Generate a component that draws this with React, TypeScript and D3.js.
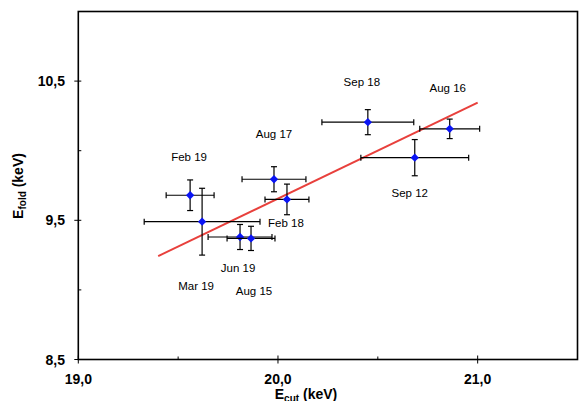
import React from "react";
import * as d3 from "d3";

const labels = ["Feb 19", "Mar 19", "Aug 17", "Feb 18", "Jun 19", "Aug 15", "Sep 18", "Aug 16", "Sep 12"];
const ecut = [19.56, 19.62, 19.98, 20.045, 19.81, 19.865, 20.45, 20.86, 20.685];
const ecutErr = [0.12, 0.29, 0.16, 0.11, 0.16, 0.12, 0.23, 0.15, 0.27];
const efold = [9.68, 9.49, 9.795, 9.65, 9.38, 9.37, 10.205, 10.157, 9.95];
const efoldErr = [0.11, 0.24, 0.09, 0.11, 0.09, 0.087, 0.09, 0.07, 0.13];
// label positions (data units)
const labelX = [19.555, 19.59, 19.98, 20.04, 19.8, 19.88, 20.42, 20.85, 20.66];
const labelY = [9.955, 9.028, 10.118, 9.483, 9.155, 8.99, 10.491, 10.448, 9.694];
const fitX = [19.4, 21.0];
const fitY = [9.243, 10.346];
const xMajor = [19.0, 20.0, 21.0];
const xMinor = [19.5, 20.5];
const yMajor = [8.5, 9.5, 10.5];
const yMinor = [9.0, 10.0];

export default function App() {
  const x = d3.scaleLinear().domain([19, 21.5]).range([78.3, 577.5]);
  const y = d3.scaleLinear().domain([8.5, 11]).range([359.5, 11.5]);
  const fmt = (v: number) => v.toFixed(1).replace(".", ",");
  const line = d3.line<number>().x((_, i) => x(fitX[i])).y((d) => y(d));
  const font = "Liberation Sans, Arial, sans-serif";
  const cap = 3;
  return (
    <svg width={583} height={401} style={{ position: "absolute", left: 0, top: 0, background: "#fff" }} fontFamily={font}>
      <rect x={x(19)} y={y(11)} width={x(21.5) - x(19)} height={y(8.5) - y(11)} fill="none" stroke="#000" strokeWidth={1.6} />
      {xMajor.map((v) => (
        <g key={"xm" + v}>
          <line x1={x(v)} x2={x(v)} y1={y(8.5) - 4} y2={y(8.5) + 4} stroke="#000" strokeWidth={1} />
          <text x={x(v)} y={384} textAnchor="middle" fontSize={14} fontWeight="bold">{fmt(v)}</text>
        </g>
      ))}
      {xMinor.map((v) => (
        <line key={"xn" + v} x1={x(v)} x2={x(v)} y1={y(8.5) - 3} y2={y(8.5)} stroke="#000" strokeWidth={1} />
      ))}
      {yMajor.map((v) => (
        <g key={"ym" + v}>
          <line x1={x(19) - 4} x2={x(19) + 3} y1={y(v)} y2={y(v)} stroke="#000" strokeWidth={1} />
          <text x={65} y={y(v)} dy="0.36em" textAnchor="end" fontSize={14} fontWeight="bold">{fmt(v)}</text>
        </g>
      ))}
      {yMinor.map((v) => (
        <line key={"yn" + v} x1={x(19)} x2={x(19) + 3} y1={y(v)} y2={y(v)} stroke="#000" strokeWidth={1} />
      ))}
      <text x={306} y={398.5} textAnchor="middle" fontSize={14} fontWeight="bold">
        E<tspan fontSize={10} dy={3}>cut</tspan><tspan dy={-3}>{"  (keV)"}</tspan>
      </text>
      <text transform="translate(23,186) rotate(-90)" textAnchor="middle" fontSize={14} fontWeight="bold">
        E<tspan fontSize={10} dy={3}>fold</tspan><tspan dy={-3}>{" (keV)"}</tspan>
      </text>
      <path d={line(fitY) || ""} stroke="#e8403c" strokeWidth={2} fill="none" />
      {ecut.map((v, i) => {
        const cx = x(v);
        const cy = y(efold[i]);
        const x0 = x(v - ecutErr[i]);
        const x1 = x(v + ecutErr[i]);
        const y0 = y(efold[i] - efoldErr[i]);
        const y1 = y(efold[i] + efoldErr[i]);
        return (
          <g key={"p" + i} stroke="#000" strokeWidth={1.2}>
            <line x1={x0} x2={x1} y1={cy} y2={cy} />
            <line x1={x0} x2={x0} y1={cy - cap} y2={cy + cap} />
            <line x1={x1} x2={x1} y1={cy - cap} y2={cy + cap} />
            <line x1={cx} x2={cx} y1={y0} y2={y1} />
            <line x1={cx - cap} x2={cx + cap} y1={y0} y2={y0} />
            <line x1={cx - cap} x2={cx + cap} y1={y1} y2={y1} />
            <path d={d3.symbol(d3.symbolDiamond2, 44)() || ""} transform={`translate(${cx},${cy})`} fill="#0a14f5" stroke="none" />
          </g>
        );
      })}
      {labels.map((l, i) => (
        <text key={"l" + i} x={x(labelX[i])} y={y(labelY[i])} dy="0.35em" textAnchor="middle" fontSize={11.5} fill="#000">{l}</text>
      ))}
    </svg>
  );
}
